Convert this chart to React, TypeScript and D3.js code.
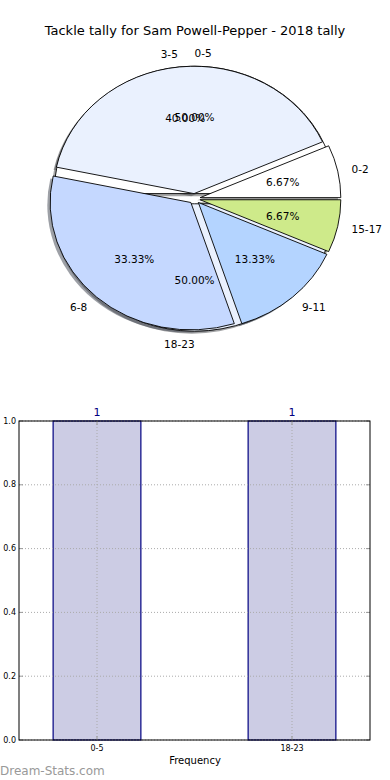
import { useMemo } from 'react'
import * as d3 from 'd3'

// pie A (drawn on top)
const ageGroups = ['0-2', '3-5', '6-8', '9-11', '15-17']
const tackleCounts = [1, 6, 5, 2, 1]
const pieColors = ['#ffffff', '#eaf1fe', '#c5d8ff', '#b4d4ff', '#ceea8a']

// pie B (drawn underneath)
const freqGroups = ['0-5', '18-23']
const freqCounts = [1, 1]
const freqColors = ['#ffffff', '#eaf1fe']

// bar chart
const barCategories = ['0-5', '18-23']
const barValues = [1, 1]
const yTicks = [0, 0.2, 0.4, 0.6, 0.8, 1.0]

const W = 390
const H = 780
const FONT = 'DejaVu Sans, sans-serif'

const PIE = { cx: 194.6, cy: 198.7, rx: 140.7, ry: 127.4 }
const EXPLODE = 0.04
const U = 100 // unit radius for path drawing

type Slice = { d: d3.PieArcDatum<number>; label: string; color: string; total: number }

const pieGen = d3
  .pie<number>()
  .sort(null)
  .startAngle(Math.PI / 2)
  .endAngle(Math.PI / 2 - 2 * Math.PI)

const arcGen = d3.arc<d3.PieArcDatum<number>>().innerRadius(0).outerRadius(U)

function slicesOf(values: number[], labels: string[], colors: string[]): Slice[] {
  const total = d3.sum(values)
  return pieGen(values).map((d, i) => ({ d, label: labels[i], color: colors[i], total }))
}

const mid = (s: Slice) => (s.d.startAngle + s.d.endAngle) / 2

function shadowColor(c: string) {
  const col = d3.rgb(c)
  return d3.rgb(col.r * 0.3, col.g * 0.3, col.b * 0.3).toString()
}

function Wedge({ s, shadow }: { s: Slice; shadow?: boolean }) {
  const a = mid(s)
  const ox = EXPLODE * U * Math.sin(a) + (shadow ? -0.02 * U : 0)
  const oy = -EXPLODE * U * Math.cos(a) + (shadow ? 0.02 * U : 0)
  return (
    <g transform={`translate(${PIE.cx},${PIE.cy}) scale(${PIE.rx / U},${PIE.ry / U}) translate(${ox},${oy})`}>
      <path
        d={arcGen(s.d) || ''}
        fill={shadow ? shadowColor(s.color) : s.color}
        fillOpacity={shadow ? 0.5 : 1}
        stroke={shadow ? 'none' : '#000'}
        strokeWidth={0.9}
        vectorEffect="non-scaling-stroke"
      />
    </g>
  )
}

function SliceTexts({ s }: { s: Slice }) {
  const a = mid(s)
  const sx = Math.sin(a)
  const cy = Math.cos(a)
  const lx = PIE.cx + PIE.rx * (EXPLODE + 1.1) * sx
  const ly = PIE.cy - PIE.ry * (EXPLODE + 1.1) * cy
  const px = PIE.cx + PIE.rx * (EXPLODE + 0.6) * sx
  const py = PIE.cy - PIE.ry * (EXPLODE + 0.6) * cy
  const pct = ((s.d.value / s.total) * 100).toFixed(2) + '%'
  return (
    <g fontFamily={FONT} fontSize={10.5} fill="#000">
      <text x={lx} y={ly} textAnchor={sx >= 0 ? 'start' : 'end'} dominantBaseline="central">
        {s.label}
      </text>
      <text x={px} y={py} textAnchor="middle" dominantBaseline="central">
        {pct}
      </text>
    </g>
  )
}

function BarChart() {
  const left = 19
  const right = 370
  const top = 421
  const bottom = 740
  const x = d3.scaleLinear().domain([-0.4, 1.4]).range([left, right])
  const y = d3.scaleLinear().domain([0, 1]).range([bottom, top])
  const bw = 0.45
  return (
    <g>
      {barCategories.map((c, i) => (
        <rect
          key={c}
          x={x(i - bw / 2)}
          y={y(barValues[i])}
          width={x(bw) - x(0)}
          height={y(0) - y(barValues[i])}
          fill="#ccccE4"
          stroke="#000080"
          strokeWidth={1.2}
        />
      ))}
      {/* grid */}
      {yTicks.map((t) => (
        <line key={'gy' + t} x1={left} x2={right} y1={y(t)} y2={y(t)} stroke="#aaa" strokeDasharray="1,2" strokeWidth={1} />
      ))}
      {barCategories.map((c, i) => (
        <line key={'gx' + c} x1={x(i)} x2={x(i)} y1={top} y2={bottom} stroke="#aaa" strokeDasharray="1,2" strokeWidth={1} />
      ))}
      {/* ticks */}
      {yTicks.map((t) => (
        <g key={'ty' + t} stroke="#999">
          <line x1={left} x2={left + 4} y1={y(t)} y2={y(t)} />
          <line x1={right - 4} x2={right} y1={y(t)} y2={y(t)} />
        </g>
      ))}
      {barCategories.map((c, i) => (
        <g key={'tx' + c} stroke="#999">
          <line x1={x(i)} x2={x(i)} y1={bottom} y2={bottom - 4} />
          <line x1={x(i)} x2={x(i)} y1={top} y2={top + 4} />
        </g>
      ))}
      <rect x={left} y={top} width={right - left} height={bottom - top} fill="none" stroke="#000" strokeWidth={1} />
      {yTicks.map((t) => (
        <text key={'ly' + t} x={left - 3} y={y(t)} textAnchor="end" dominantBaseline="central" fontFamily={FONT} fontSize={8} fill="#000">
          {t.toFixed(1)}
        </text>
      ))}
      {barCategories.map((c, i) => (
        <text key={'lx' + c} x={x(i)} y={748} textAnchor="middle" dominantBaseline="central" fontFamily={FONT} fontSize={8} fill="#000">
          {c}
        </text>
      ))}
      {barCategories.map((c, i) => (
        <text key={'v' + c} x={x(i)} y={y(barValues[i]) - 9} textAnchor="middle" dominantBaseline="central" fontFamily={FONT} fontSize={11} fill="#000080">
          {barValues[i]}
        </text>
      ))}
      <text x={195} y={760} textAnchor="middle" dominantBaseline="central" fontFamily={FONT} fontSize={10} fill="#000">
        Frequency
      </text>
    </g>
  )
}

export default function App() {
  const sA = useMemo(() => slicesOf(tackleCounts, ageGroups, pieColors), [])
  const sB = useMemo(() => slicesOf(freqCounts, freqGroups, freqColors), [])
  return (
    <svg width={W} height={H} style={{ position: 'absolute', left: 0, top: 0, background: '#fff' }}>
      <rect width={W} height={H} fill="#fff" />
      <text x={195} y={30} textAnchor="middle" dominantBaseline="central" fontFamily={FONT} fontSize={13} fill="#000">
        Tackle tally for Sam Powell-Pepper - 2018 tally
      </text>
      {[...sB, ...sA].map((s, i) => (
        <Wedge key={'sh' + i} s={s} shadow />
      ))}
      {sB.map((s, i) => (
        <Wedge key={'b' + i} s={s} />
      ))}
      {sA.map((s, i) => (
        <Wedge key={'a' + i} s={s} />
      ))}
      {sB.map((s, i) => (
        <SliceTexts key={'tb' + i} s={s} />
      ))}
      {sA.map((s, i) => (
        <SliceTexts key={'ta' + i} s={s} />
      ))}
      <BarChart />
      <text x={0} y={771} dominantBaseline="central" fontFamily={FONT} fontSize={12} fill="#999">
        Dream-Stats.com
      </text>
    </svg>
  )
}
